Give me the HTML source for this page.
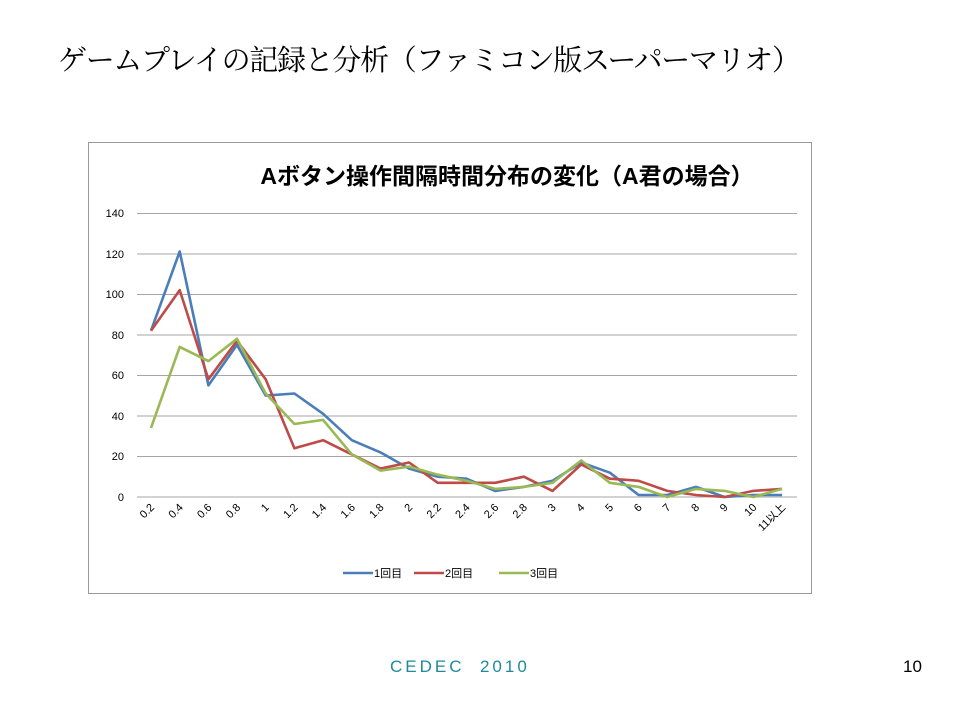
<!DOCTYPE html>
<html><head><meta charset="utf-8"><style>
body{margin:0;width:960px;height:720px;background:#fff;overflow:hidden;position:relative;font-family:"Liberation Sans","Noto Sans CJK JP",sans-serif}
.t{position:absolute;left:58px;top:38px;font-size:29px;font-family:"Liberation Serif","Noto Serif CJK SC",serif;color:#000;white-space:nowrap;letter-spacing:-1.3px}
.f{position:absolute;left:390px;top:657px;font-size:17px;color:#1f8a9a;letter-spacing:3px;white-space:pre}
.n{position:absolute;left:903px;top:657px;font-size:17px;color:#000}
</style></head><body>
<div class="t">ゲームプレイの記録と分析（ファミコン版スーパーマリオ）</div>
<svg width="960" height="720" style="position:absolute;left:0;top:0" font-family="Liberation Sans, Noto Sans CJK JP, sans-serif">
<rect x="88.5" y="142.5" width="723" height="451" fill="#fff" stroke="#999"/>
<text x="507" y="184" font-size="23" font-weight="bold" text-anchor="middle" fill="#000">Aボタン操作間隔時間分布の変化（A君の場合）</text>
<g stroke="#a6a6a6" stroke-width="1">
<line x1="137" x2="797" y1="213.5" y2="213.5"/><line x1="137" x2="797" y1="254" y2="254"/><line x1="137" x2="797" y1="294.5" y2="294.5"/><line x1="137" x2="797" y1="335" y2="335"/><line x1="137" x2="797" y1="375.5" y2="375.5"/><line x1="137" x2="797" y1="416" y2="416"/><line x1="137" x2="797" y1="456.5" y2="456.5"/><line x1="137" x2="797" y1="497" y2="497"/>
</g>
<g font-size="11" text-anchor="end" fill="#000">
<text x="124" y="217">140</text><text x="124" y="258">120</text><text x="124" y="298">100</text><text x="124" y="339">80</text><text x="124" y="379">60</text><text x="124" y="420">40</text><text x="124" y="460">20</text><text x="124" y="501">0</text>
</g>
<g id="xl" font-size="11" text-anchor="end" fill="#000"></g>
<g fill="none" stroke-width="2.6" stroke-linejoin="round">
<polyline id="b" stroke="#4a7ebb"/><polyline id="r" stroke="#be4b48"/><polyline id="g" stroke="#98b954"/>
</g>
<g font-size="11" fill="#000">
<line x1="343" x2="373" y1="573" y2="573" stroke="#4a7ebb" stroke-width="2.6"/><text x="374" y="577">1回目</text>
<line x1="414" x2="444" y1="573" y2="573" stroke="#be4b48" stroke-width="2.6"/><text x="445" y="577">2回目</text>
<line x1="499" x2="529" y1="573" y2="573" stroke="#98b954" stroke-width="2.6"/><text x="530" y="577">3回目</text>
</g>
</svg>
<div class="f">CEDEC  2010</div>
<div class="n">10</div>
<script>
var B=[82,121,55,75,50,51,41,28,22,14,10,9,3,5,8,17,12,1,1,5,0,1,1];
var R=[82,102,58,77,58,24,28,21,14,17,7,7,7,10,3,16,9,8,3,1,0,3,4];
var G=[34,74,67,78,51,36,38,21,13,15,11,8,4,5,7,18,7,5,0,4,3,0,4];
var L=["0.2","0.4","0.6","0.8","1","1.2","1.4","1.6","1.8","2","2.2","2.4","2.6","2.8","3","4","5","6","7","8","9","10","11以上"];
function X(i){return 151+i*(631/22)}
function Y(v){return 497-v*2.0286}
function pts(a){return a.map(function(v,i){return X(i).toFixed(1)+","+Y(v).toFixed(1)}).join(" ")}
document.getElementById("b").setAttribute("points",pts(B));
document.getElementById("r").setAttribute("points",pts(R));
document.getElementById("g").setAttribute("points",pts(G));
var s="";L.forEach(function(l,i){var x=X(i)+4,y=508;s+='<text transform="translate('+x+','+y+') rotate(-45)">'+l+'</text>'});
document.getElementById("xl").innerHTML=s;
</script>
</body></html>
